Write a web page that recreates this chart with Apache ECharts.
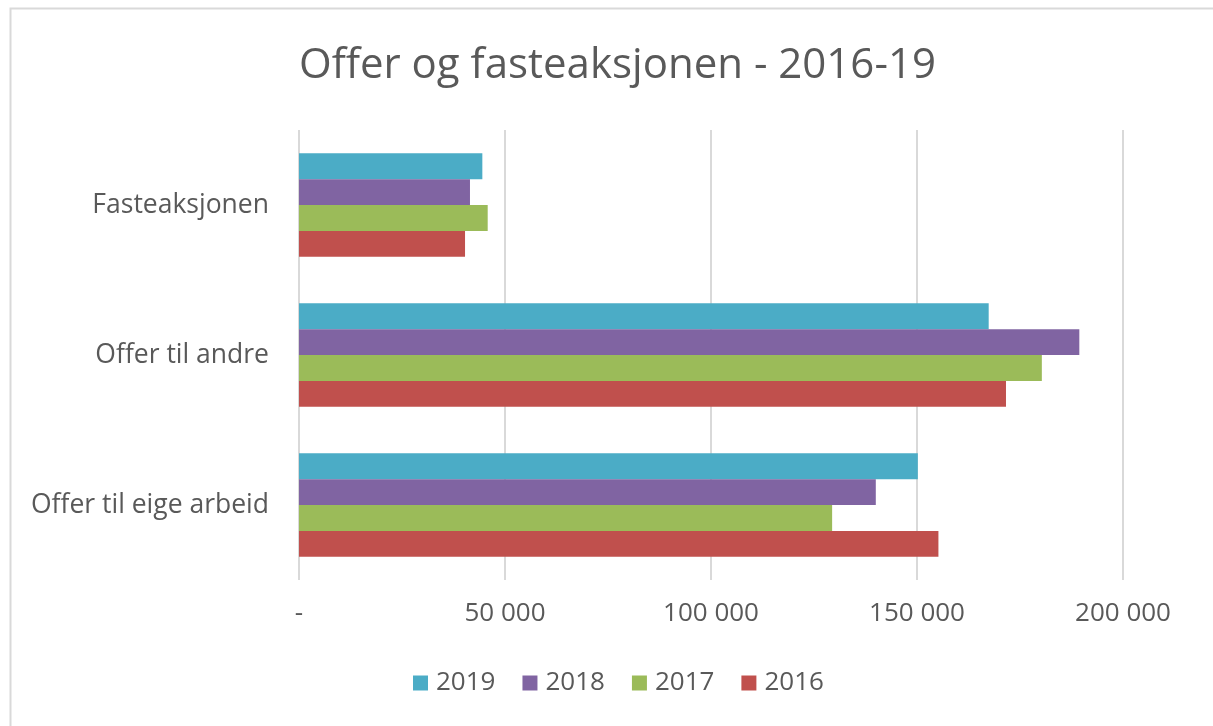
<!DOCTYPE html>
<html>
<head>
<meta charset="utf-8">
<script src="https://cdn.jsdelivr.net/npm/echarts@6/dist/echarts.min.js"></script>
<style>
html,body{margin:0;padding:0;background:#fff;}
#c{width:1213px;height:726px;}
</style>
</head>
<body>
<div id="c"></div>
<script>
const categories = ['Offer til eige arbeid', 'Offer til andre', 'Fasteaksjonen'];
const years = ['2019', '2018', '2017', '2016'];
const v2019 = [150200, 167400, 44500];
const v2018 = [140000, 189400, 41500];
const v2017 = [129400, 180300, 45800];
const v2016 = [155200, 171600, 40300];
const seriesValues = [v2019, v2018, v2017, v2016];
const colors = ['#4BACC6', '#8064A2', '#9BBB59', '#C0504D'];
const xTicks = { min: 0, max: 200000, interval: 50000 };

const FONT = 'Open Sans';
const TXT = '#595959';

function fmt(v) {
  if (v === 0) return '-';
  return String(v).replace(/\B(?=(\d{3})+(?!\d))/g, ' ');
}

const chart = echarts.init(document.getElementById('c'), null, {renderer: 'canvas'});
chart.setOption({
  animation: false,
  backgroundColor: '#fff',
  graphic: [{
    type: 'rect', left: 8, top: 6, shape: {width: 1400, height: 900},
    style: {fill: 'none', stroke: '#d9d9d9', lineWidth: 2}, silent: true
  }],
  title: {
    text: 'Offer og fasteaksjonen - 2016-19',
    left: 294, top: 40,
    textStyle: {fontFamily: FONT, fontSize: 42, fontWeight: 'normal', color: TXT}
  },
  legend: {
    data: years,
    top: 665,
    left: 408,
    icon: 'rect',
    itemWidth: 15, itemHeight: 15, itemGap: 27,
    textStyle: {fontFamily: FONT, fontSize: 26, color: TXT, padding: [0, 0, 0, 3]}
  },
  grid: {left: 299, right: 90, top: 130, bottom: 146, containLabel: false},
  xAxis: {
    type: 'value', min: xTicks.min, max: xTicks.max, interval: xTicks.interval,
    axisLine: {show: false}, axisTick: {show: false},
    axisLabel: {formatter: fmt, fontFamily: FONT, fontSize: 26, color: TXT, margin: 21},
    splitLine: {lineStyle: {color: '#d9d9d9', width: 2}}
  },
  yAxis: {
    type: 'category', data: categories,
    axisLine: {show: false}, axisTick: {show: false},
    axisLabel: {fontFamily: FONT, fontSize: 26.5, color: TXT, margin: 30}
  },
  series: years.map((y, i) => ({
    name: y, type: 'bar', data: seriesValues[i],
    barGap: '0%', barCategoryGap: '31%',
    itemStyle: {color: colors[i]}
  }))
});
</script>
</body>
</html>
